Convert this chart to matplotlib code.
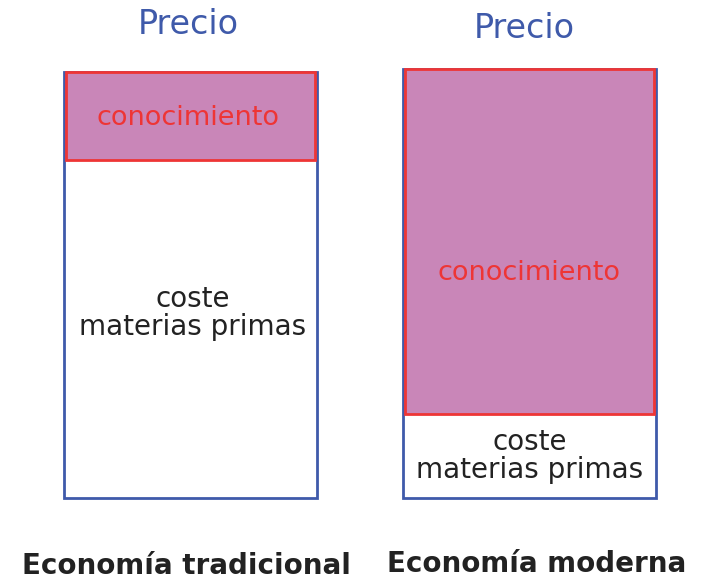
import matplotlib
matplotlib.use("Agg")
import matplotlib.pyplot as plt

# two economies: price split into raw-material cost + knowledge
economias = ["Economía tradicional", "Economía moderna"]
coste = [338, 84]
conocimiento = [88, 345]

x_pos = [190.5, 529.5]
BLUE = "#3F5AAA"
RED = "#EE3535"
PINK = "#C986B8"
DARK = "#222222"

fig = plt.figure(figsize=(7.13, 5.79), dpi=100)
ax = fig.add_axes([0, 0, 1, 1])
ax.set_xlim(0, 713)
ax.set_ylim(-81, 498)
ax.axis("off")

totals = [c + k for c, k in zip(coste, conocimiento)]

# blue outline of the whole price
ax.bar(x_pos, totals, width=253, bottom=0, facecolor="none",
       edgecolor=BLUE, linewidth=2.0, zorder=1)
# knowledge share on top
ax.bar(x_pos, conocimiento, width=249, bottom=coste, color=PINK,
       edgecolor=RED, linewidth=2.0, zorder=2)

# "Precio" headers
ax.text(188, 474, "Precio", ha="center", va="center", fontsize=24, color=BLUE)
ax.text(524, 469, "Precio", ha="center", va="center", fontsize=24, color=BLUE)

# knowledge labels
ax.text(188, 380, "conocimiento", ha="center", va="center", fontsize=19.5,
        color=RED, zorder=3)
ax.text(529, 225, "conocimiento", ha="center", va="center", fontsize=19.5,
        color=RED, zorder=3)

# raw material labels
ax.text(193, 185, "coste\nmaterias primas", ha="center", va="center",
        fontsize=20, color=DARK, linespacing=1.0)
ax.text(530, 42, "coste\nmaterias primas", ha="center", va="center",
        fontsize=20, color=DARK, linespacing=1.0)

# category names
ax.text(186, -76, economias[0], ha="center", va="baseline", fontsize=20,
        fontweight="bold", color=DARK)
ax.text(537, -74, economias[1], ha="center", va="baseline", fontsize=20,
        fontweight="bold", color=DARK)

fig.savefig("out.png", dpi=100)
